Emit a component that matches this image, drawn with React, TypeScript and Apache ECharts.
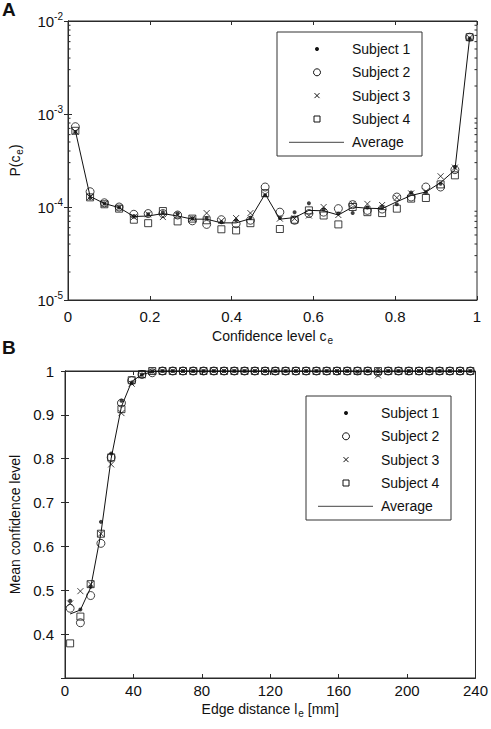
import React, { useEffect, useRef } from 'react';
import * as echarts from 'echarts';

const FONT = '"Liberation Sans", Arial, Helvetica, sans-serif';

// ---------- Panel A data ----------
const confX = [0.018, 0.054, 0.089, 0.125, 0.161, 0.196, 0.232, 0.268, 0.304, 0.339, 0.375, 0.411, 0.446, 0.482,
  0.518, 0.554, 0.589, 0.625, 0.661, 0.696, 0.732, 0.768, 0.804, 0.839, 0.875, 0.911, 0.946, 0.982];
const aSubject1 = [6.4e-4, 1.25e-4, 1.09e-4, 0.99e-4, 0.80e-4, 0.835e-4, 0.877e-4, 0.85e-4, 0.75e-4, 0.76e-4, 0.69e-4, 0.72e-4, 0.76e-4, 1.34e-4,
  0.76e-4, 0.88e-4, 1.10e-4, 0.94e-4, 0.85e-4, 0.86e-4, 0.99e-4, 0.99e-4, 1.07e-4, 1.43e-4, 1.43e-4, 1.78e-4, 2.69e-4, 6.5e-3];
const aSubject2 = [7.3e-4, 1.46e-4, 1.11e-4, 1.0e-4, 0.835e-4, 0.85e-4, 0.85e-4, 0.82e-4, 0.71e-4, 0.65e-4, 0.73e-4, 0.66e-4, 0.72e-4, 1.64e-4,
  0.88e-4, 0.72e-4, 0.85e-4, 0.88e-4, 0.96e-4, 1.06e-4, 0.92e-4, 0.95e-4, 1.28e-4, 1.28e-4, 1.64e-4, 1.64e-4, 2.52e-4, 6.7e-3];
const aSubject3 = [6.5e-4, 1.28e-4, 1.08e-4, 0.99e-4, 0.78e-4, 0.835e-4, 0.78e-4, 0.82e-4, 0.75e-4, 0.86e-4, 0.71e-4, 0.76e-4, 0.86e-4, 1.36e-4,
  0.75e-4, 0.75e-4, 0.81e-4, 1.0e-4, 0.82e-4, 1.08e-4, 1.08e-4, 1.05e-4, 1.26e-4, 1.40e-4, 1.47e-4, 2.14e-4, 2.65e-4, 6.6e-3];
const aSubject4 = [6.6e-4, 1.27e-4, 1.07e-4, 0.96e-4, 0.73e-4, 0.67e-4, 0.905e-4, 0.70e-4, 0.75e-4, 0.72e-4, 0.576e-4, 0.56e-4, 0.67e-4, 1.41e-4,
  0.58e-4, 0.73e-4, 0.92e-4, 0.81e-4, 0.65e-4, 1.0e-4, 0.88e-4, 0.86e-4, 0.96e-4, 1.23e-4, 1.25e-4, 1.75e-4, 2.19e-4, 6.7e-3];
const aAverage = [6.6e-4, 1.3e-4, 1.09e-4, 0.985e-4, 0.79e-4, 0.80e-4, 0.85e-4, 0.80e-4, 0.74e-4, 0.74e-4, 0.675e-4, 0.675e-4, 0.75e-4, 1.38e-4,
  0.74e-4, 0.77e-4, 0.92e-4, 0.91e-4, 0.82e-4, 1.0e-4, 0.97e-4, 0.96e-4, 1.14e-4, 1.33e-4, 1.45e-4, 1.83e-4, 2.5e-4, 6.6e-3];
const aMinorTicks = [2e-5, 3e-5, 4e-5, 5e-5, 6e-5, 7e-5, 8e-5, 9e-5, 2e-4, 3e-4, 4e-4, 5e-4, 6e-4, 7e-4, 8e-4, 9e-4,
  2e-3, 3e-3, 4e-3, 5e-3, 6e-3, 7e-3, 8e-3, 9e-3];

// ---------- Panel B data ----------
const edgeX = [3, 9, 15, 21, 27, 33, 39, 45, 51, 57, 63, 69, 75, 81, 87, 93, 99, 105, 111, 117,
  123, 129, 135, 141, 147, 153, 159, 165, 171, 177, 183, 189, 195, 201, 207, 213, 219, 225, 231, 237];
const bSubject1 = [0.476, 0.456, 0.508, 0.656, 0.812, 0.932, 0.974, 0.992, 0.999, 1, 1, 1, 1, 1, 1, 1, 1, 1, 1, 1,
  1, 1, 1, 1, 1, 1, 1, 1, 0.998, 1, 1, 1, 1, 1, 1, 1, 1, 1, 1, 1];
const bSubject2 = [0.459, 0.426, 0.488, 0.607, 0.803, 0.927, 0.978, 0.992, 0.996, 1, 1, 1, 1, 1, 1, 1, 1, 1, 1, 1,
  1, 1, 1, 1, 1, 1, 1, 1, 1, 1, 0.997, 1, 1, 1, 1, 1, 1, 1, 1, 1];
const bSubject3 = [0.47, 0.498, 0.514, 0.629, 0.787, 0.904, 0.971, 0.99, 0.999, 1, 1, 1, 1, 1, 1, 1, 1, 1, 1, 1,
  1, 1, 1, 1, 1, 1, 1, 1, 1, 1, 0.99, 1, 1, 1, 1, 1, 1, 1, 1, 1];
const bSubject4 = [0.379, 0.44, 0.514, 0.629, 0.803, 0.913, 0.979, 0.993, 1, 1, 1, 1, 1, 1, 1, 1, 1, 1, 1, 1,
  1, 1, 1, 1, 1, 1, 1, 1, 1, 1, 1, 1, 1, 1, 1, 1, 1, 1, 1, 1];
const bAverage = [0.446, 0.455, 0.506, 0.630, 0.801, 0.919, 0.976, 0.992, 0.998, 1, 1, 1, 1, 1, 1, 1, 1, 1, 1, 1,
  1, 1, 1, 1, 1, 1, 1, 1, 0.9995, 1, 0.997, 1, 1, 1, 1, 1, 1, 1, 1, 1];

const legendLabels = ['Subject 1', 'Subject 2', 'Subject 3', 'Subject 4', 'Average'];

const INK = '#111';
const AXIS = '#2a2a2a';
const CROSS = 'path://M0,0L10,10M10,0L0,10';

const markerStyles = [
  { symbol: 'circle', symbolSize: 4, itemStyle: { color: INK, borderWidth: 0 } },
  { symbol: 'circle', symbolSize: 8, itemStyle: { color: 'transparent', borderColor: INK, borderWidth: 1 } },
  { symbol: CROSS, symbolSize: 6, itemStyle: { color: 'transparent', borderColor: INK, borderWidth: 1 } },
  { symbol: 'rect', symbolSize: 7, itemStyle: { color: 'transparent', borderColor: INK, borderWidth: 1 } },
];

function pairs(xs: number[], ys: number[]) {
  return xs.map((x, i) => [x, ys[i]]);
}

function buildLegend(left: number, top: number) {
  const rowY = [17, 40.3, 63.6, 87, 110.3];
  const mx = left + 40;
  const tx = left + 75;
  const children: any[] = [
    { type: 'rect', shape: { x: left, y: top, width: 145, height: 124 }, style: { fill: '#fff', stroke: '#333', lineWidth: 1 } },
  ];
  children.push({ type: 'circle', shape: { cx: mx, cy: top + rowY[0], r: 2 }, style: { fill: INK } });
  children.push({ type: 'circle', shape: { cx: mx, cy: top + rowY[1], r: 3.5 }, style: { fill: 'none', stroke: INK, lineWidth: 1 } });
  children.push({ type: 'line', shape: { x1: mx - 2.5, y1: top + rowY[2] - 2.5, x2: mx + 2.5, y2: top + rowY[2] + 2.5 }, style: { stroke: INK, lineWidth: 1 } });
  children.push({ type: 'line', shape: { x1: mx - 2.5, y1: top + rowY[2] + 2.5, x2: mx + 2.5, y2: top + rowY[2] - 2.5 }, style: { stroke: INK, lineWidth: 1 } });
  children.push({ type: 'rect', shape: { x: mx - 3, y: top + rowY[3] - 3, width: 6, height: 6 }, style: { fill: 'none', stroke: INK, lineWidth: 1 } });
  children.push({ type: 'line', shape: { x1: left + 12, y1: top + rowY[4], x2: left + 67, y2: top + rowY[4] }, style: { stroke: '#444', lineWidth: 1 } });
  legendLabels.forEach((label, i) => {
    children.push({
      type: 'text',
      style: { x: tx, y: top + rowY[i], text: label, fill: '#111', font: `14px ${FONT}`, textVerticalAlign: 'middle', verticalAlign: 'middle' },
    });
  });
  return { type: 'group', children };
}

const tickLabelStyle = { color: '#111', fontFamily: FONT, fontSize: 15 };

const option: any = {
  animation: false,
  backgroundColor: '#fff',
  textStyle: { fontFamily: FONT },
  grid: [
    { left: 65, top: 21, width: 412, height: 279, show: true, borderColor: AXIS, borderWidth: 1, backgroundColor: '#fff' },
    { left: 65, top: 371, width: 412, height: 307, show: true, borderColor: AXIS, borderWidth: 1, backgroundColor: '#fff' },
  ],
  xAxis: [
    {
      gridIndex: 0, type: 'value', min: 0, max: 1, interval: 0.2, position: 'bottom',
      name: 'Confidence level c{sub|e}', nameLocation: 'middle', nameGap: 27,
      nameTextStyle: { fontFamily: FONT, fontSize: 14, color: '#111', verticalAlign: 'top', rich: { sub: { fontSize: 10, verticalAlign: 'bottom', padding: [8, 0, 0, 1] } } },
      axisLine: { show: true, lineStyle: { color: AXIS } },
      axisTick: { inside: true, length: 4, lineStyle: { color: AXIS } },
      axisLabel: { ...tickLabelStyle, margin: 9, formatter: (v: number) => String(Math.round(v * 10) / 10) },
      splitLine: { show: false },
    },
    {
      gridIndex: 0, type: 'value', min: 0, max: 1, interval: 0.2, position: 'top',
      axisLine: { show: true, lineStyle: { color: AXIS } },
      axisTick: { inside: true, length: 4, lineStyle: { color: AXIS } },
      axisLabel: { show: false }, splitLine: { show: false },
    },
    {
      gridIndex: 1, type: 'value', min: 0, max: 240, interval: 40, position: 'bottom',
      name: 'Edge distance l{sub|e} [mm]', nameLocation: 'middle', nameGap: 22,
      nameTextStyle: { fontFamily: FONT, fontSize: 14, color: '#111', verticalAlign: 'top', rich: { sub: { fontSize: 10, verticalAlign: 'bottom', padding: [8, 0, 0, 1] } } },
      axisLine: { show: true, lineStyle: { color: AXIS } },
      axisTick: { inside: true, length: 4, lineStyle: { color: AXIS } },
      axisLabel: { ...tickLabelStyle, margin: 5 },
      splitLine: { show: false },
    },
    {
      gridIndex: 1, type: 'value', min: 0, max: 240, interval: 40, position: 'top',
      axisLine: { show: true, lineStyle: { color: AXIS } },
      axisTick: { inside: true, length: 4, lineStyle: { color: AXIS } },
      axisLabel: { show: false }, splitLine: { show: false },
    },
  ],
  yAxis: [
    {
      gridIndex: 0, type: 'log', logBase: 10, min: 1e-5, max: 1e-2, position: 'left',
      name: 'P(c{sub|e})', nameLocation: 'middle', nameGap: 44, nameRotate: 90,
      nameTextStyle: { fontFamily: FONT, fontSize: 14, color: '#111', rich: { sub: { fontSize: 10, verticalAlign: 'bottom', padding: [8, 0, 0, 1] } } },
      axisLine: { show: true, lineStyle: { color: AXIS } },
      axisTick: { inside: true, length: 4, lineStyle: { color: AXIS } },
      axisLabel: {
        ...tickLabelStyle, margin: 5,
        formatter: (v: number) => `{b|10}{s|${Math.round(Math.log10(v))}}`,
        rich: {
          b: { fontFamily: FONT, fontSize: 15, color: '#111', lineHeight: 20, verticalAlign: 'middle' },
          s: { fontFamily: FONT, fontSize: 10, color: '#111', lineHeight: 8, verticalAlign: 'top' },
        },
      },
      splitLine: { show: false },
    },
    {
      gridIndex: 0, type: 'log', logBase: 10, min: 1e-5, max: 1e-2, position: 'right',
      axisLine: { show: true, lineStyle: { color: AXIS } },
      axisTick: { inside: true, length: 4, lineStyle: { color: AXIS } },
      axisLabel: { show: false }, splitLine: { show: false },
    },
    {
      gridIndex: 1, type: 'value', min: 0.3, max: 1, interval: 0.1, position: 'left',
      name: 'Mean confidence level', nameLocation: 'middle', nameGap: 37, nameRotate: 90,
      nameTextStyle: { fontFamily: FONT, fontSize: 14, color: '#111' },
      axisLine: { show: true, lineStyle: { color: AXIS } },
      axisTick: { inside: true, length: 4, lineStyle: { color: AXIS } },
      axisLabel: {
        ...tickLabelStyle, margin: 11,
        formatter: (v: number) => (v < 0.35 ? '' : v > 0.99 ? '1' : v.toFixed(1)),
      },
      splitLine: { show: false },
    },
    {
      gridIndex: 1, type: 'value', min: 0.3, max: 1, interval: 0.1, position: 'right',
      axisLine: { show: true, lineStyle: { color: AXIS } },
      axisTick: { inside: true, length: 4, lineStyle: { color: AXIS } },
      axisLabel: { show: false }, splitLine: { show: false },
    },
  ],
  series: [
    {
      type: 'custom', xAxisIndex: 0, yAxisIndex: 0, silent: true, clip: false,
      data: aMinorTicks.map((v) => [0, v]),
      encode: { x: 0, y: 1 },
      renderItem: (_p: any, api: any) => {
        const v = api.value(1);
        const l = api.coord([0, v]);
        const r = api.coord([1, v]);
        return {
          type: 'group',
          children: [
            { type: 'line', shape: { x1: l[0], y1: l[1], x2: l[0] + 2.5, y2: l[1] }, style: { stroke: AXIS, lineWidth: 1 } },
            { type: 'line', shape: { x1: r[0] - 2.5, y1: r[1], x2: r[0], y2: r[1] }, style: { stroke: AXIS, lineWidth: 1 } },
          ],
        };
      },
    },
    ...[aSubject1, aSubject2, aSubject3, aSubject4].map((ys, i) => ({
      type: 'scatter', name: legendLabels[i], xAxisIndex: 0, yAxisIndex: 0,
      data: pairs(confX, ys), ...markerStyles[i],
    })),
    {
      type: 'line', name: 'Average', xAxisIndex: 0, yAxisIndex: 0, data: pairs(confX, aAverage),
      showSymbol: false, symbol: 'none', lineStyle: { color: INK, width: 1 },
    },
    ...[bSubject1, bSubject2, bSubject3, bSubject4].map((ys, i) => ({
      type: 'scatter', name: legendLabels[i], xAxisIndex: 2, yAxisIndex: 2,
      data: pairs(edgeX, ys), ...markerStyles[i],
    })),
    {
      type: 'line', name: 'Average', xAxisIndex: 2, yAxisIndex: 2, data: pairs(edgeX, bAverage),
      showSymbol: false, symbol: 'none', lineStyle: { color: INK, width: 1 },
    },
  ],
  graphic: [
    { type: 'text', style: { x: 2, y: 19, text: 'A', fill: '#111', font: `bold 19px ${FONT}`, textVerticalAlign: 'bottom', verticalAlign: 'bottom' } },
    { type: 'text', style: { x: 2, y: 357, text: 'B', fill: '#111', font: `bold 19px ${FONT}`, textVerticalAlign: 'bottom', verticalAlign: 'bottom' } },
    buildLegend(277, 32),
    buildLegend(306, 396),
  ],
};

export default function App() {
  const ref = useRef<HTMLDivElement>(null);
  useEffect(() => {
    const chart = echarts.init(ref.current!, null, { renderer: 'svg' });
    chart.setOption(option);
    return () => chart.dispose();
  }, []);
  return (
    <div
      ref={ref}
      style={{ position: 'fixed', left: 0, top: 0, width: 491, height: 729, background: '#fff' }}
    />
  );
}
